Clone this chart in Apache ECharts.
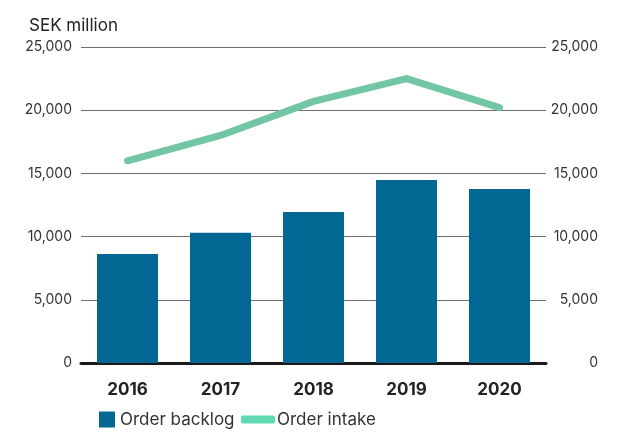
<!DOCTYPE html>
<html><head><meta charset="utf-8">
<script src="https://cdn.jsdelivr.net/npm/echarts@6/dist/echarts.min.js"></script>
<style>html,body{margin:0;padding:0;background:#fff}#c{width:633px;height:435px}</style>
</head><body><div id="c"></div>
<script>
const categories = ['2016', '2017', '2018', '2019', '2020'];
const orderBacklog = [8620, 10300, 11950, 14480, 13760];
const orderIntake = [16000, 18000, 20700, 22500, 20200];
const yTicks = [0, 5000, 10000, 15000, 20000, 25000];

const fmt = v => v.toLocaleString('en-US');
const chart = echarts.init(document.getElementById('c'));
const yAxisBase = {
  type: 'value', min: yTicks[0], max: yTicks[yTicks.length - 1], interval: yTicks[1] - yTicks[0],
  axisLine: { show: false }, axisTick: { show: false },
  axisLabel: { formatter: fmt, color: '#333', fontFamily: 'Inter', fontSize: 14, lineHeight: 16, padding: [8, 0, 0, 0] }
};
chart.setOption({
  animation: false,
  textStyle: { fontFamily: 'Inter' },
  title: { text: 'SEK million', left: 24, top: 12, textStyle: { fontFamily: 'Inter', fontSize: 17, fontWeight: 'normal', color: '#222' } },
  grid: { left: 81, right: 87, top: 47, bottom: 72 },
  legend: [
    { data: ['Order backlog'], left: 99, top: 411, padding: 0, itemWidth: 16, itemHeight: 16, icon: 'rect',
      textStyle: { fontFamily: 'Inter', fontSize: 17, color: '#333' } },
    { data: [{ name: 'Order intake', icon: 'roundRect', itemStyle: { color: '#5fd9b1' } }], left: 241, top: 411, padding: 0, itemWidth: 34, itemHeight: 8,
      textStyle: { fontFamily: 'Inter', fontSize: 17, color: '#333', padding: [0, 0, 0, -3] } }
  ],
  xAxis: {
    type: 'category', data: categories,
    axisLine: { lineStyle: { color: '#1a1a1a', width: 3 } }, axisTick: { show: false },
    axisLabel: { color: '#222', fontFamily: 'Inter', fontSize: 17, fontWeight: 'bold', margin: 18 }
  },
  yAxis: [
    Object.assign({}, yAxisBase, { position: 'left', axisLabel: Object.assign({}, yAxisBase.axisLabel, { margin: 9 }),
      splitLine: { lineStyle: { color: '#6e6e6e', width: 1 } } }),
    Object.assign({}, yAxisBase, { position: 'right', splitLine: { show: false },
      axisLabel: Object.assign({}, yAxisBase.axisLabel, { align: 'right', margin: 52 }) })
  ],
  series: [
    { name: 'Order backlog', type: 'bar', data: orderBacklog, barWidth: 61, itemStyle: { color: '#026893' } },
    { name: 'Order intake', type: 'line', data: orderIntake, yAxisIndex: 0, showSymbol: false, symbol: 'none',
      lineStyle: { color: '#72c6a4', width: 7, cap: 'round', join: 'round' }, itemStyle: { color: '#72c6a4' } }
  ]
});
</script></body></html>
